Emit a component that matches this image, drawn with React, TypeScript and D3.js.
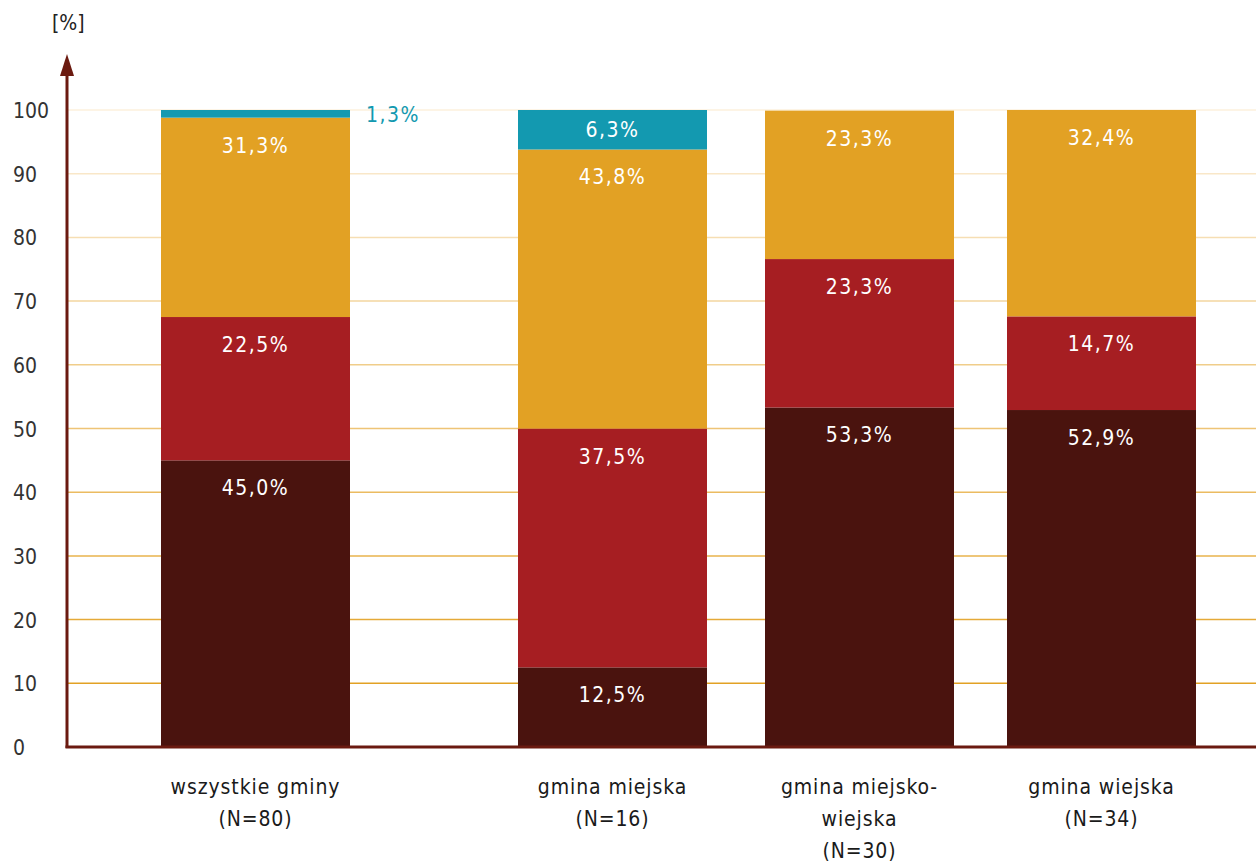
import * as d3 from 'd3';

const categories = ['wszystkie gminy', 'gmina miejska', 'gmina miejsko-wiejska', 'gmina wiejska'];
const categoryLines = [
    ['wszystkie gminy', '(N=80)'],
    ['gmina miejska', '(N=16)'],
    ['gmina miejsko-', 'wiejska', '(N=30)'],
    ['gmina wiejska', '(N=34)'],
];
const seriesBrown = [45.0, 12.5, 53.3, 52.9];
const seriesRed = [22.5, 37.5, 23.3, 14.7];
const seriesOrange = [31.3, 43.8, 23.3, 32.4];
const seriesTeal = [1.3, 6.3, 0, 0];
const yTicks = [0, 10, 20, 30, 40, 50, 60, 70, 80, 90, 100];

const W = 1256;
const H = 863;
const axisX = 67;
const axisY = 747;
const topY = 110;
const barW = 189;
const barCenters = [255.5, 612.5, 859.5, 1101.5];
const colors = ['#4a130e', '#a61e22', '#e2a124', '#1399b0'];
const axisColor = '#6b1a10';
const font = '"Liberation Sans Narrow", "DejaVu Sans Condensed", "Roboto Condensed", sans-serif';

const fmt = (v: number) => v.toFixed(1).replace('.', ',') + '%';

export default function App() {
    const y = d3.scaleLinear().domain([0, 100]).range([axisY, topY]);
    const x = d3.scaleOrdinal<string, number>().domain(categories).range(barCenters);
    const gridColor = d3.scaleLinear<string>().domain([10, 100]).range(['#e2a124', '#fcf0dc']);
    const series = [seriesBrown, seriesRed, seriesOrange, seriesTeal];
    const stackData = categories.map((c, i) => {
        const row: Record<string, number | string> = { cat: c };
        series.forEach((s, k) => (row['s' + k] = s[i]));
        return row;
    });
    const stack = d3.stack<Record<string, number | string>>().keys(['s0', 's1', 's2', 's3'])(stackData as any);

    return (
        <svg width={W} height={H} style={{ position: 'absolute', left: 0, top: 0, fontFamily: font }}>
            {yTicks.filter((t) => t > 0).map((t) => (
                <line key={t} x1={axisX} x2={W} y1={y(t)} y2={y(t)} stroke={gridColor(t)} strokeWidth={1.5} />
            ))}
            {stack.map((layer, k) =>
                layer.map((d, i) => {
                    const v = d[1] - d[0];
                    if (v <= 0) return null;
                    const cx = x(categories[i]);
                    const y0 = y(d[1]);
                    const y1 = Math.min(y(d[0]), axisY);
                    const top = Math.max(y0, topY);
                    const h = y1 - top;
                    const small = h < 15;
                    const labelY = k === 3 ? (top + y1) / 2 + 7 : top + 35;
                    return (
                        <g key={k + '-' + i}>
                            <rect x={cx - barW / 2} y={top} width={barW} height={h} fill={colors[k]} />
                            <text
                                x={small ? cx + barW / 2 + 43 : cx}
                                y={small ? top + 12 : labelY}
                                textAnchor="middle"
                                fontSize={21}
                                letterSpacing={1.5}
                                fill={small ? colors[3] : '#fff'}
                            >
                                {fmt(series[k][i])}
                            </text>
                        </g>
                    );
                })
            )}
            {yTicks.map((t) => (
                <text key={t} x={13} y={y(t) + 8} fontSize={21} fill="#333">
                    {t}
                </text>
            ))}
            <text x={52} y={30} fontSize={21} fill="#222">[%]</text>
            <line x1={axisX} x2={axisX} y1={axisY + 1} y2={72} stroke={axisColor} strokeWidth={3} />
            <path d={`M${axisX},54 L${axisX - 7},76 L${axisX + 7},76 Z`} fill={axisColor} />
            <line x1={axisX - 1.5} x2={W} y1={axisY} y2={axisY} stroke={axisColor} strokeWidth={3} />
            {categoryLines.map((lines, i) =>
                lines.map((l, j) => (
                    <text
                        key={i + '-' + j}
                        x={x(categories[i])}
                        y={794 + j * 32}
                        textAnchor="middle"
                        fontSize={21}
                        letterSpacing={0.9}
                        fill="#1a1a1a"
                    >
                        {l}
                    </text>
                ))
            )}
        </svg>
    );
}
